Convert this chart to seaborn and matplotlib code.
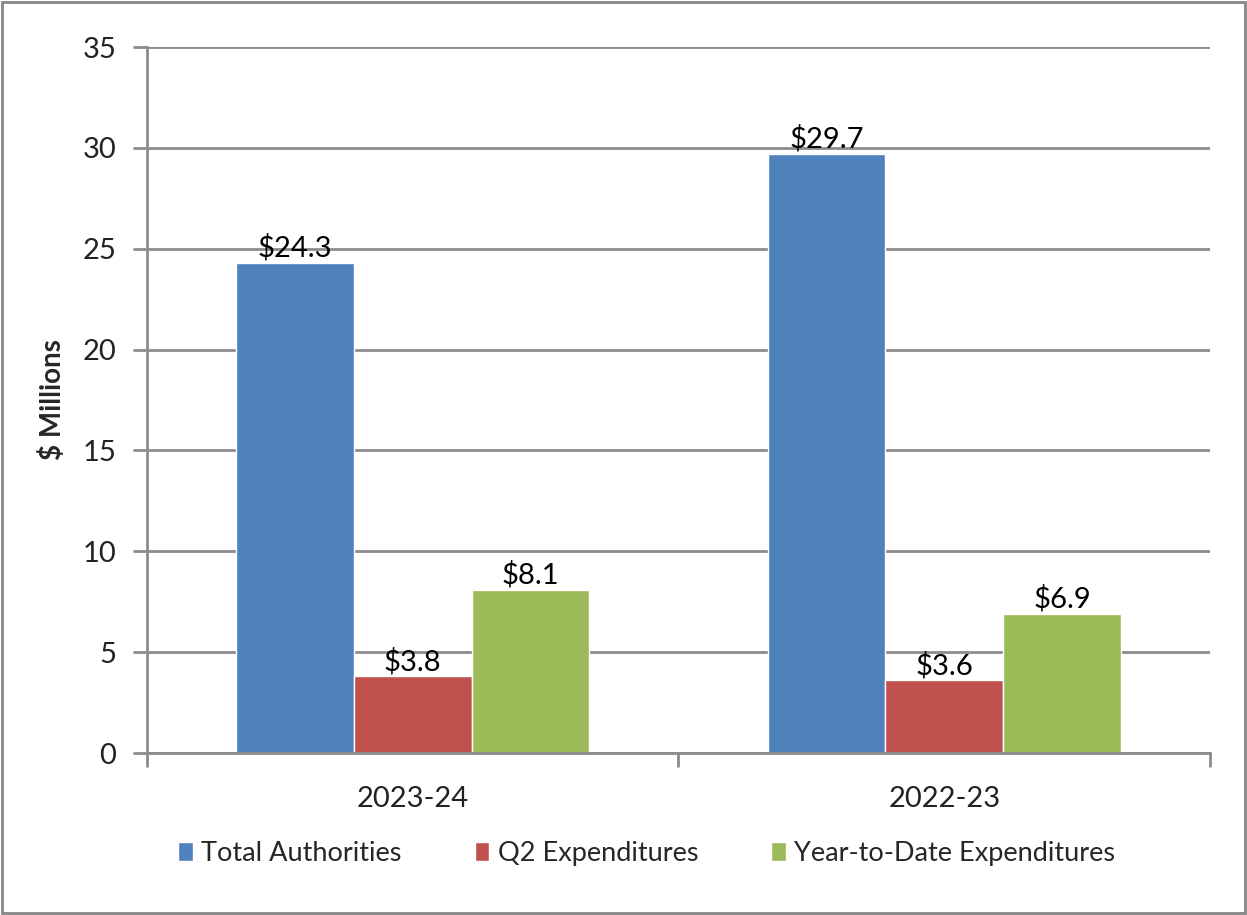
import numpy as np
import pandas as pd
import matplotlib
matplotlib.use('Agg')
import matplotlib.pyplot as plt
import seaborn as sns

years = ['2023-24', '2022-23']
series = ['Total Authorities', 'Q2 Expenditures', 'Year-to-Date Expenditures']
total_auth = [24.3, 29.7]
q2_exp = [3.8, 3.6]
ytd_exp = [8.1, 6.9]
colors = ['#4f81bd', '#c0504d', '#9bbb59']

df = pd.DataFrame({
    'year': years * 3,
    'series': [s for s in series for _ in years],
    'value': total_auth + q2_exp + ytd_exp,
})

sns.set_style('white')
plt.rcParams['font.family'] = ['Lato', 'DejaVu Sans']

fig = plt.figure(figsize=(12.47, 9.15), dpi=100)
ax = fig.add_axes([0.1179, 0.177, 0.8524, 0.7716])

sns.barplot(data=df, x='year', y='value', hue='series', order=years,
            hue_order=series, palette=colors, width=0.665, saturation=1,
            ax=ax, legend=True)

for cont in ax.containers:
    ax.bar_label(cont, labels=['$%.1f' % v for v in cont.datavalues],
                 fontsize=21, padding=1, color='black')

grid_c = '#8c8c8c'
ax.set_ylim(0, 35)
ax.set_xlim(-0.5, 1.5)
ax.set_yticks(np.arange(0, 36, 5))
ax.yaxis.grid(True, color=grid_c, linewidth=2)
ax.set_axisbelow(True)
for s in ['top', 'right']:
    ax.spines[s].set_visible(False)
for s in ['left', 'bottom']:
    ax.spines[s].set_color(grid_c)
    ax.spines[s].set_linewidth(2)

ax.tick_params(axis='y', length=10, width=2, color=grid_c, labelsize=21,
               pad=12, left=True, direction='out', labelcolor='#222222')
ax.set_xticks([0, 1])
ax.set_xticks([-0.5, 0.5, 1.5], minor=True)
ax.tick_params(axis='x', which='major', length=0, labelsize=21, pad=24,
               labelcolor='#222222')
ax.tick_params(axis='x', which='minor', length=10, width=2, color=grid_c,
               bottom=True)
ax.set_xlabel('')
ax.set_ylabel('$ Millions', fontsize=20, fontweight='bold', labelpad=12)

handles, labels = ax.get_legend_handles_labels()
ax.legend(handles, labels, loc='center', bbox_to_anchor=(0.47, -0.142),
          ncol=3, frameon=False, fontsize=19.5, handlelength=0.55,
          handleheight=0.7, handletextpad=0.3, columnspacing=2.7)

fig.patches.append(plt.Rectangle((0.002, 0.002), 0.996, 0.996,
                                 transform=fig.transFigure, fill=False,
                                 edgecolor='#868686', linewidth=2))

fig.savefig('out.png', dpi=100)
